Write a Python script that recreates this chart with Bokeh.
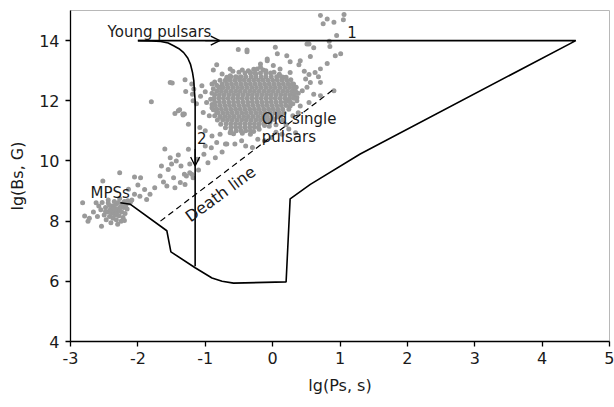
from bokeh.plotting import figure
from bokeh.models import Range1d, Arrow, OpenHead, FixedTicker, ColumnDataSource
from bokeh.core.properties import value
from bokeh.embed import file_html
from bokeh.resources import INLINE

# ---- pulsar population: lg(P) vs lg(B) ----
# millisecond pulsars
mps_pts = [(-2.82, 8.61), (-2.79, 8.17), (-2.74, 8.00), (-2.72, 8.10), (-2.62, 8.61), (-2.54, 7.83),
           (-2.52, 9.33), (-2.50, 8.20), (-2.48, 8.45), (-2.47, 8.05), (-2.45, 8.30), (-2.44, 8.60),
           (-2.42, 8.15), (-2.41, 8.38), (-2.40, 7.95), (-2.39, 8.25), (-2.38, 8.50), (-2.37, 8.10),
           (-2.36, 8.32), (-2.35, 8.42), (-2.34, 8.20), (-2.33, 8.55), (-2.32, 8.05), (-2.31, 8.28),
           (-2.30, 8.40), (-2.29, 8.62), (-2.28, 8.18), (-2.27, 8.35), (-2.26, 8.48), (-2.25, 8.00),
           (-2.24, 8.30), (-2.23, 8.58), (-2.22, 8.12), (-2.21, 8.45), (-2.20, 8.65), (-2.19, 8.25),
           (-2.18, 8.52), (-2.16, 8.40), (-2.15, 8.68), (-2.13, 8.60), (-2.11, 8.64), (-2.09, 8.70),
           (-2.30, 7.90), (-2.44, 8.70), (-2.58, 8.50), (-2.66, 8.30), (-2.60, 8.15), (-2.53, 8.62),
           (-2.27, 8.75), (-2.35, 8.65), (-2.20, 8.02), (-2.42, 8.52), (-2.48, 8.32), (-2.55, 8.38)]

# recycled / intermediate objects between the two groups
bridge_pts = [(-2.27, 9.61), (-2.05, 9.47), (-1.96, 9.44), (-2.14, 9.06), (-2.05, 8.89), (-1.97, 8.83),
              (-1.87, 8.72), (-1.82, 8.89), (-1.75, 9.11), (-1.67, 9.50), (-1.57, 9.17), (-1.45, 9.11),
              (-1.47, 9.44), (-1.37, 9.28), (-1.30, 9.22), (-1.28, 9.50), (-1.20, 9.56), (-1.23, 9.61),
              (-1.18, 9.44), (-1.36, 9.83), (-1.65, 9.83), (-1.55, 9.72), (-1.43, 10.00), (-1.52, 10.11),
              (-1.25, 10.39), (-2.00, 9.20), (-1.90, 9.05), (-1.62, 9.30), (-1.31, 9.56), (-1.23, 9.90),
              (-1.40, 10.20), (-1.60, 10.40), (-1.12, 10.06), (-1.02, 10.22), (-0.96, 9.94), (-0.85, 10.11),
              (-0.91, 10.44), (-0.70, 10.56), (-1.00, 10.50), (-0.83, 10.61), (-0.68, 10.56), (-0.56, 10.56),
              (-0.46, 10.67), (-0.40, 10.50), (-0.33, 10.89), (-0.22, 10.72), (-0.12, 10.67), (-0.02, 10.78),
              (0.14, 10.89), (0.24, 11.06), (0.34, 10.94), (-0.63, 10.94), (-0.78, 10.89), (-0.90, 10.83),
              (-1.00, 11.00), (-1.08, 11.11), (-1.25, 11.22), (-1.33, 11.56), (-0.30, 10.45), (0.05, 10.95),
              (-0.75, 10.30), (-1.50, 9.90), (-1.10, 9.70)]

# dense core of ordinary single pulsars, row by row
core_rows = [
    (12.92, [-0.41, -0.33, -0.26, -0.18, -0.10, -0.03]),
    (12.80, [-0.62, -0.55, -0.47, -0.40, -0.32, -0.25, -0.17, -0.10, -0.02, 0.06, 0.13]),
    (12.68, [-0.70, -0.63, -0.56, -0.49, -0.42, -0.35, -0.28, -0.21, -0.14, -0.07, 0.00, 0.07, 0.14, 0.21]),
    (12.56, [-0.75, -0.68, -0.61, -0.54, -0.47, -0.40, -0.33, -0.26, -0.19, -0.12, -0.05, 0.02, 0.09, 0.16, 0.23, 0.29]),
    (12.44, [-0.80, -0.73, -0.66, -0.59, -0.52, -0.45, -0.38, -0.31, -0.24, -0.17, -0.10, -0.03, 0.04, 0.11, 0.18, 0.25, 0.31]),
    (12.32, [-0.83, -0.76, -0.69, -0.62, -0.55, -0.48, -0.41, -0.34, -0.27, -0.20, -0.13, -0.06, 0.01, 0.08, 0.15, 0.22, 0.29, 0.34]),
    (12.20, [-0.86, -0.79, -0.72, -0.65, -0.58, -0.51, -0.44, -0.37, -0.30, -0.23, -0.16, -0.09, -0.02, 0.05, 0.12, 0.19, 0.26, 0.32]),
    (12.08, [-0.87, -0.80, -0.73, -0.66, -0.59, -0.52, -0.45, -0.38, -0.31, -0.24, -0.17, -0.10, -0.03, 0.04, 0.11, 0.18, 0.25, 0.31]),
    (11.96, [-0.86, -0.79, -0.72, -0.65, -0.58, -0.51, -0.44, -0.37, -0.30, -0.23, -0.16, -0.09, -0.02, 0.05, 0.12, 0.19, 0.26]),
    (11.84, [-0.85, -0.78, -0.71, -0.64, -0.57, -0.50, -0.43, -0.36, -0.29, -0.22, -0.15, -0.08, -0.01, 0.06, 0.13, 0.20]),
    (11.72, [-0.83, -0.76, -0.69, -0.62, -0.55, -0.48, -0.41, -0.34, -0.27, -0.20, -0.13, -0.06, 0.01, 0.08, 0.15]),
    (11.60, [-0.81, -0.74, -0.67, -0.60, -0.53, -0.46, -0.39, -0.32, -0.25, -0.18, -0.11, -0.04, 0.03, 0.09]),
    (11.48, [-0.78, -0.71, -0.64, -0.57, -0.50, -0.43, -0.36, -0.29, -0.22, -0.15, -0.08, -0.01]),
    (11.36, [-0.74, -0.67, -0.60, -0.53, -0.46, -0.39, -0.32, -0.25, -0.18, -0.11, -0.05]),
    (11.24, [-0.69, -0.62, -0.55, -0.48, -0.41, -0.34, -0.27, -0.20, -0.13]),
    (11.12, [-0.62, -0.55, -0.48, -0.41, -0.34, -0.27, -0.21]),
    (11.00, [-0.54, -0.47, -0.40, -0.33]),
]

# ragged rim of the core
rim_pts = [(-0.50, 12.95), (-0.45, 13.02), (-0.36, 13.00), (-0.28, 13.05), (-0.14, 13.02), (0.02, 12.95),
           (0.10, 12.88), (-0.68, 12.78), (0.20, 12.78), (0.27, 12.70), (0.35, 12.45), (0.38, 12.25),
           (0.36, 12.00), (0.30, 11.90), (0.24, 11.72), (0.17, 11.60), (0.12, 11.50), (-0.78, 12.68),
           (-0.83, 12.52), (-0.88, 12.40), (-0.90, 12.25), (-0.92, 12.05), (-0.90, 11.88), (-0.88, 11.70),
           (-0.86, 11.50), (-0.82, 11.36), (-0.77, 11.22), (-0.70, 11.10), (-0.62, 11.00), (-0.58, 10.90),
           (-0.45, 10.92), (-0.28, 10.98), (-0.20, 11.05), (-0.12, 11.18), (-0.04, 11.28), (0.02, 11.38),
           (0.07, 11.46)]

# scattered pulsars around the core
halo_pts = [(-0.51, 13.70), (-0.38, 13.63), (-0.83, 13.20), (-0.88, 13.02), (-0.75, 12.89), (-0.63, 13.06),
            (-0.59, 12.98), (-1.49, 12.59), (-1.30, 12.70), (-1.29, 12.31), (-1.80, 11.97), (-1.20, 12.56),
            (-1.17, 12.39), (-1.19, 12.22), (-1.18, 12.00), (-1.13, 11.90), (-1.45, 11.58), (-1.38, 11.70),
            (-1.33, 11.53), (-1.05, 12.50), (-1.00, 12.30), (-1.07, 12.15), (-0.98, 11.94), (-0.90, 11.77),
            (-1.03, 11.61), (-0.94, 11.50), (-0.83, 11.60), (-0.78, 11.45), (-0.90, 12.56), (-0.86, 12.62),
            (-0.78, 12.45), (-0.70, 12.67), (-0.63, 12.83), (-0.53, 12.78), (-0.33, 12.94), (-0.23, 13.06),
            (-0.10, 13.00), (-0.18, 13.22), (-0.08, 13.33), (0.54, 13.89), (0.61, 13.76), (0.04, 13.78),
            (0.07, 13.56), (-0.38, 13.69), (-0.08, 13.39), (0.21, 13.50), (0.26, 13.30), (0.41, 13.33),
            (0.39, 13.20), (0.56, 13.47), (0.81, 13.24), (0.93, 13.50), (1.01, 13.56), (0.71, 13.06),
            (0.68, 12.80), (0.63, 12.94), (0.54, 12.87), (0.47, 12.98), (0.49, 12.72), (0.56, 12.61),
            (0.71, 12.61), (0.51, 12.45), (0.61, 12.22), (0.44, 12.33), (0.36, 12.11), (0.54, 11.94),
            (0.71, 12.17), (0.91, 12.33), (0.41, 11.83), (0.26, 11.83), (0.21, 12.00), (0.31, 12.56),
            (0.16, 12.78), (0.26, 12.94), (0.11, 13.06), (0.01, 13.17), (-0.18, 13.11), (-0.25, 12.89),
            (-1.52, 12.61), (-1.40, 11.67), (-1.31, 11.56), (0.30, 11.50), (0.15, 11.35), (0.20, 11.20),
            (0.05, 11.20), (-0.05, 11.15), (0.38, 11.60), (0.10, 11.60)]

# magnetar-like objects above the young-pulsar track
magnetar_pts = [(0.71, 14.83), (0.81, 14.72), (0.75, 14.56), (0.91, 14.61), (1.06, 14.87), (1.05, 14.69),
                (0.95, 14.17), (0.51, 13.89), (0.84, 13.98), (0.85, 13.80)]

# ---- evolutionary tracks ----
outline_x = [-2.26, -2.11, -1.57, -1.51, -1.15, -0.90, -0.75, -0.58, 0.20, 0.26, 0.56, 1.30, 4.50, -2.00]
outline_y = [8.61, 8.56, 7.68, 6.98, 6.45, 6.11, 6.00, 5.94, 5.98, 8.74, 9.22, 10.23, 14.00, 14.00]

track2_x = [-2.00, -1.80, -1.66, -1.55, -1.47, -1.39, -1.32, -1.26, -1.22, -1.19, -1.17, -1.16, -1.15, -1.15]
track2_y = [14.00, 13.99, 13.97, 13.92, 13.83, 13.73, 13.60, 13.42, 13.22, 12.95, 12.67, 12.30, 12.00, 6.50]

death_x = [-1.665, 0.90]
death_y = [8.00, 12.37]

# ---- annotations ----
ann_text = ["Young pulsars", "1", "Old single", "pulsars", "MPSs", "2"]
ann_x = [-2.45, 1.18, -0.16, -0.16, -2.41, -1.05]
ann_y = [14.28, 14.28, 11.39, 10.78, 8.94, 10.76]
ann_align = ["left", "center", "left", "left", "center", "center"]

x_ticks = [-3, -2, -1, 0, 1, 2, 3, 4, 5]
y_ticks = [4, 6, 8, 10, 12, 14]

FONT = "DejaVu Sans"

p = figure(width=614, height=407, x_range=Range1d(-3, 5), y_range=Range1d(4, 15),
           output_backend="svg", toolbar_location=None,
           min_border_left=70, min_border_right=5, min_border_top=10, min_border_bottom=66,
           x_axis_label="lg(Ps, s)", y_axis_label="lg(Bs, G)")

p.background_fill_color = "white"
p.border_fill_color = "white"
p.outline_line_color = "#b8b8b8"
p.outline_line_width = 1
p.xgrid.visible = False
p.ygrid.visible = False

for ax, ticks in ((p.xaxis, x_ticks), (p.yaxis, y_ticks)):
    ax.ticker = FixedTicker(ticks=ticks)
    ax.major_label_overrides = {t: str(t) for t in ticks}
    ax.minor_tick_line_color = None
    ax.major_tick_in = 0
    ax.major_tick_out = 5
    ax.axis_line_color = "black"
    ax.axis_line_width = 1.3
    ax.major_tick_line_width = 1.3
    ax.major_label_text_font = FONT
    ax.major_label_text_font_size = "16px"
    ax.major_label_text_color = "#1a1a1a"
    ax.axis_label_text_font = FONT
    ax.axis_label_text_font_size = "16px"
    ax.axis_label_text_font_style = "normal"
    ax.axis_label_text_color = "#1a1a1a"

p.xaxis.major_label_standoff = 5
p.xaxis.axis_label_standoff = 9
p.yaxis.major_label_standoff = 6
p.yaxis.axis_label_standoff = 9

# scatter points
all_pts = list(mps_pts) + list(bridge_pts) + list(rim_pts) + list(halo_pts) + list(magnetar_pts)
for yy, xs in core_rows:
    all_pts += [(xx, yy) for xx in xs]
pts = ColumnDataSource(dict(x=[a for a, _ in all_pts], y=[b for _, b in all_pts]))
p.scatter("x", "y", source=pts, size=5, fill_color="#9a9a9a", line_color=None)

# tracks
p.line(outline_x, outline_y, line_color="black", line_width=1.6)
p.line(track2_x, track2_y, line_color="black", line_width=1.6)
p.line(death_x, death_y, line_color="black", line_width=1.2, line_dash="6 4")

p.add_layout(Arrow(end=OpenHead(size=9, line_width=1.3, line_color="black"),
                   x_start=-1.0, y_start=14.0, x_end=-0.785, y_end=14.0,
                   line_color="black", line_width=1.3))
p.add_layout(Arrow(end=OpenHead(size=9, line_width=1.3, line_color="black"),
                   x_start=-1.15, y_start=10.4, x_end=-1.15, y_end=9.83,
                   line_color="black", line_width=1.3))

ann = ColumnDataSource(dict(x=ann_x, y=ann_y, text=ann_text, align=ann_align))
p.text("x", "y", text="text", source=ann, text_align="align", text_baseline="middle",
       text_font=value(FONT), text_font_size="15px", text_color="#1a1a1a")

p.text([-0.774], [8.90], text=["Death line"], angle=36, angle_units="deg",
       text_align="center", text_baseline="middle",
       text_font=value(FONT), text_font_size="16px", text_color="#1a1a1a")

open("out.html", "w").write(file_html(p, INLINE))
